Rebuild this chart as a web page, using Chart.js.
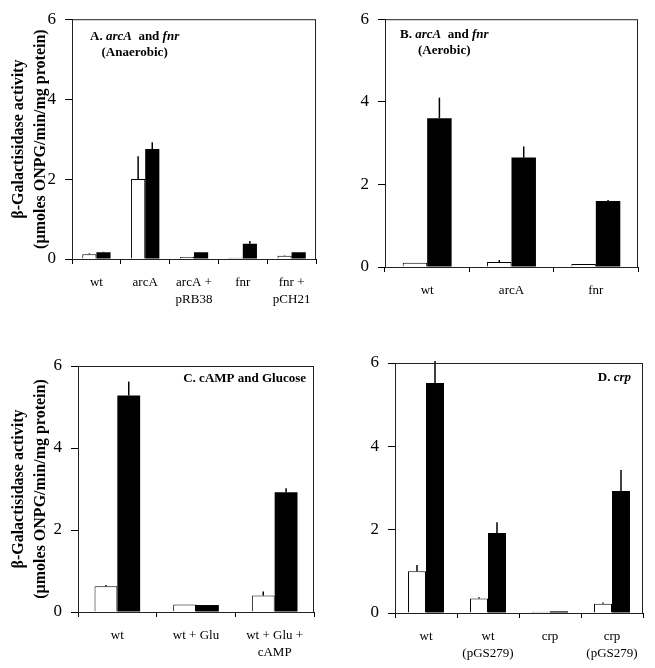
<!DOCTYPE html>
<html>
<head>
<meta charset="utf-8">
<script src="https://cdn.jsdelivr.net/npm/chart.js@4"></script>
<style>
    body { margin: 0; background: #fff; }
    #wrap { position: relative; width: 655px; height: 668px; }
    canvas { position: absolute; }
</style>
</head>
<body>
<div id="wrap">
    <canvas id="chartA" width="327" height="334" style="left:0;top:0"></canvas>
    <canvas id="chartB" width="328" height="334" style="left:327px;top:0"></canvas>
    <canvas id="chartC" width="327" height="334" style="left:0;top:334px"></canvas>
    <canvas id="chartD" width="328" height="334" style="left:327px;top:334px"></canvas>
</div>
<script>
// values (open bars / filled bars, with upward error)
const labelsA = ['wt', 'arcA', ['arcA +', 'pRB38'], 'fnr', ['fnr +', 'pCH21']];
const openA = [0.12, 2.0, 0.05, 0.03, 0.08];
const openErrA = [0.02, 0.57, 0, 0, 0.01];
const filledA = [0.17, 2.75, 0.17, 0.38, 0.17];
const filledErrA = [0.01, 0.17, 0, 0.07, 0];

const labelsB = ['wt', 'arcA', 'fnr'];
const openB = [0.1, 0.12, 0.07];
const openErrB = [0, 0.05, 0];
const filledB = [3.6, 2.65, 1.6];
const filledErrB = [0.5, 0.27, 0.02];

const labelsC = ['wt', 'wt + Glu', ['wt + Glu +', 'cAMP']];
const openC = [0.63, 0.18, 0.4];
const openErrC = [0.03, 0, 0.1];
const filledC = [5.28, 0.17, 2.92];
const filledErrC = [0.34, 0, 0.1];

const labelsD = ['wt', ['wt', '(pGS279)'], 'crp', ['crp', '(pGS279)']];
const openD = [1.0, 0.35, 0.03, 0.22];
const openErrD = [0.15, 0.03, 0, 0.03];
const filledD = [5.52, 1.92, 0.04, 2.93];
const filledErrD = [0.53, 0.26, 0, 0.5];

const yTicks = [0, 2, 4, 6];
const yTitle = ['\u03b2-Galactisidase activity', '(\u00b5moles ONPG/min/mg protein)'];

const serif = "'Liberation Serif', 'Times New Roman', serif";

// error bars: a plain vertical line above each bar
const errorBars = {
    id: 'errorBars',
    afterDatasetsDraw(chart) {
        const c = chart.ctx;
        const y = chart.scales.y;
        c.save();
        c.strokeStyle = '#000';
        c.lineWidth = 1.5;
        chart.data.datasets.forEach((ds, i) => {
            const meta = chart.getDatasetMeta(i);
            meta.data.forEach((bar, j) => {
                const err = ds.errors[j];
                if (!err) return;
                c.beginPath();
                c.moveTo(bar.x, y.getPixelForValue(ds.data[j]));
                c.lineTo(bar.x, y.getPixelForValue(ds.data[j] + err));
                c.stroke();
            });
        });
        c.restore();
    }
};

// box around the plot and the panel caption
const frameAndNote = {
    id: 'frameAndNote',
    afterDraw(chart, args, opts) {
        const c = chart.ctx;
        const a = chart.chartArea;
        c.save();
        c.strokeStyle = '#222';
        c.lineWidth = 1;
        c.strokeRect(a.left + 0.5, a.top + 0.5, a.width - 1, a.height);

        c.fillStyle = '#000';
        c.textBaseline = 'middle';
        const fontOf = italic => (italic ? 'italic ' : '') + 'bold 13px ' + serif;
        const widthOf = line => line.reduce((w, s) => {
            c.font = fontOf(s[1]);
            return w + c.measureText(s[0]).width;
        }, 0);
        const first = opts.lines[0];
        const w0 = widthOf(first);
        const x0 = opts.align === 'right' ? a.right - opts.dx - w0 : a.left + opts.dx;
        const mid = x0 + w0 / 2;
        opts.lines.forEach((line, k) => {
            let x = k === 0 ? x0 : mid - widthOf(line) / 2;
            line.forEach(s => {
                c.font = fontOf(s[1]);
                c.fillText(s[0], x, a.top + opts.dy + k * 16);
                x += c.measureText(s[0]).width;
            });
        });
        c.restore();
    }
};

function makePanel(id, labels, open, openErr, filled, filledErr, box, note, showTitle) {
    const ctx = document.getElementById(id).getContext('2d');
    return new Chart(ctx, {
        type: 'bar',
        data: {
            labels: labels,
            datasets: [
                {
                    data: open,
                    errors: openErr,
                    backgroundColor: '#fff',
                    borderColor: '#000',
                    borderWidth: 1
                },
                {
                    data: filled,
                    errors: filledErr,
                    backgroundColor: '#000',
                    borderColor: '#000',
                    borderWidth: 0
                }
            ]
        },
        options: {
            responsive: false,
            animation: false,
            layout: { padding: { top: box.top, right: box.right, left: 0, bottom: 0 } },
            datasets: { bar: { categoryPercentage: 0.58, barPercentage: 1 } },
            plugins: {
                legend: { display: false },
                tooltip: { enabled: false },
                frameAndNote: note
            },
            scales: {
                x: {
                    grid: { drawOnChartArea: false, color: '#000', tickLength: 5, offset: true },
                    border: { color: '#000', width: 1 },
                    ticks: {
                        color: '#000',
                        padding: 10,
                        maxRotation: 0,
                        autoSkip: false,
                        font: { family: serif, size: 13, lineHeight: '17px' }
                    },
                    afterFit: s => { s.height = box.xHeight; }
                },
                y: {
                    min: 0,
                    max: 6,
                    afterBuildTicks: s => { s.ticks = yTicks.map(v => ({ value: v })); },
                    grid: { drawOnChartArea: false, color: '#000', tickLength: 7 },
                    border: { color: '#000', width: 1 },
                    ticks: {
                        color: '#000',
                        padding: 9,
                        font: { family: serif, size: 17 }
                    },
                    title: {
                        display: showTitle,
                        text: yTitle,
                        color: '#000',
                        padding: { top: 8, bottom: 0 },
                        font: { family: serif, size: 16, weight: 'bold', lineHeight: '22px' }
                    },
                    afterFit: s => { s.width = box.left; }
                }
            }
        },
        plugins: [errorBars, frameAndNote]
    });
}

makePanel('chartA', labelsA, openA, openErrA, filledA, filledErrA,
    { left: 72, top: 16, right: 11, xHeight: 75 },
    { align: 'left', dx: 18, dy: 17, lines: [
        [['A. ', false], ['arcA', true], ['  and ', false], ['fnr', true]],
        [['(Anaerobic)', false]]
    ] }, true);

makePanel('chartB', labelsB, openB, openErrB, filledB, filledErrB,
    { left: 58, top: 15, right: 17, xHeight: 67 },
    { align: 'left', dx: 15, dy: 15, lines: [
        [['B. ', false], ['arcA', true], ['  and ', false], ['fnr', true]],
        [['(Aerobic)', false]]
    ] }, false);

makePanel('chartC', labelsC, openC, openErrC, filledC, filledErrC,
    { left: 78, top: 32, right: 13, xHeight: 56 },
    { align: 'right', dx: 8, dy: 13, lines: [
        [['C. cAMP and Glucose', false]]
    ] }, true);

makePanel('chartD', labelsD, openD, openErrD, filledD, filledErrD,
    { left: 68, top: 29, right: 12, xHeight: 55 },
    { align: 'right', dx: 12, dy: 15, lines: [
        [['D. ', false], ['crp', true]]
    ] }, false);
</script>
</body>
</html>
